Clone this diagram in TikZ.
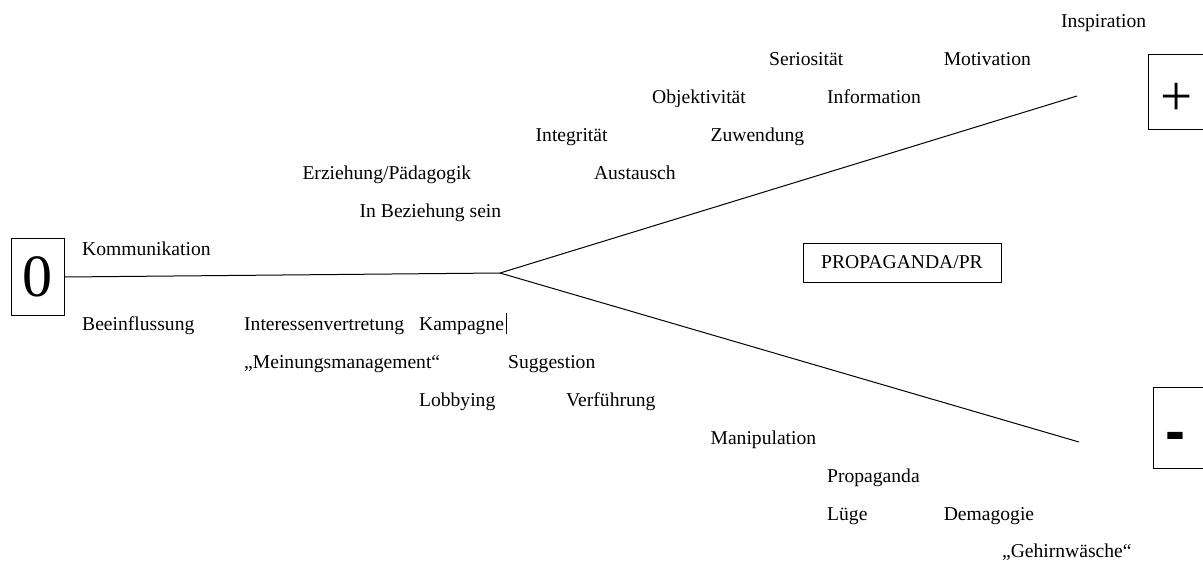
\documentclass[tikz,border=0pt]{standalone}
\usepackage{fontspec}
\setmainfont{Liberation Serif}
\newfontfamily\signfont{Liberation Sans}
\begin{document}
\begin{tikzpicture}[x=1pt,y=-1pt,
  lbl/.style={anchor=base west,inner sep=0pt,font=\fontsize{19.6}{23}\selectfont},
  frame/.style={draw,line width=1pt},
  ln/.style={line width=1pt}]
\useasboundingbox (0,0) rectangle (1203,560);
\begin{scope}
\clip (0,0) rectangle (1203,560);
% boxes
\node[frame,minimum width=53pt,minimum height=77pt,inner sep=0pt,font=\fontsize{60}{60}\selectfont] (zero) at (37.5,276.5) {0};
\draw[frame] (1220,54) -- (1148,54) -- (1148,129) -- (1220,129);
\node[inner sep=0pt,font=\fontsize{57}{57}\selectfont] (plus) at (1177,99.5) {+};
\draw[frame] (1220,387) -- (1153,387) -- (1153,468) -- (1220,468);
\node[anchor=base,inner sep=0pt,font=\signfont\bfseries\fontsize{60}{60}\selectfont] (minus) at (1175,451) {-};
\node[frame,minimum width=198pt,minimum height=39pt,inner sep=0pt,font=\fontsize{19.6}{23}\selectfont] (pr) at (902,262.5) {PROPAGANDA/PR};
\end{scope}
% connectors
\coordinate (split) at (500,273);
\coordinate (up) at (1077,96);
\coordinate (down) at (1079,442);
\draw[ln] (zero.east |- 0,277) -- (split);
\draw[ln] (split) -- (up);
\draw[ln] (split) -- (down);
% labels
\node[lbl] (t1) at (1061,27) {Inspiration};
\node[lbl] (t2) at (769,65) {Seriosität};
\node[lbl] (t3) at (943.6,65) {Motivation};
\node[lbl] (t4) at (652,103) {Objektivität};
\node[lbl] (t5) at (827,103) {Information};
\node[lbl] (t6) at (535.5,141) {Integrität};
\node[lbl] (t7) at (710.4,141) {Zuwendung};
\node[lbl] (t8) at (302.3,179) {Erziehung/Pädagogik};
\node[lbl] (t9) at (593.8,179) {Austausch};
\node[lbl] (t10) at (359.5,217) {In Beziehung sein};
\node[lbl] (t11) at (82,255) {Kommunikation};
\node[lbl] (t12) at (82,330.5) {Beeinflussung};
\node[lbl] (t13) at (244,330.5) {Interessenvertretung};
\node[lbl] (t14) at (418.9,330.5) {Kampagne};
\draw[line width=0.8pt] (506,313) -- (506,334);
\node[lbl] (t15) at (244,368) {„Meinungsmanagement“};
\node[lbl] (t16) at (508,368) {Suggestion};
\node[lbl] (t17) at (418.9,406) {Lobbying};
\node[lbl] (t18) at (566,406) {Verführung};
\node[lbl] (t19) at (710.4,444) {Manipulation};
\node[lbl] (t20) at (827,482) {Propaganda};
\node[lbl] (t21) at (827,520) {Lüge};
\node[lbl] (t22) at (943.6,520) {Demagogie};
\node[lbl] (t23) at (1001.9,557.5) {„Gehirnwäsche“};
\end{tikzpicture}
\end{document}
